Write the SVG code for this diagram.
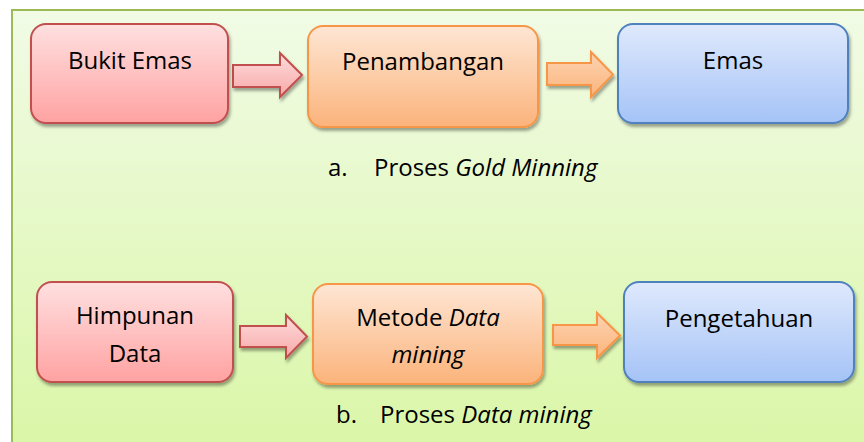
<svg xmlns="http://www.w3.org/2000/svg" width="864" height="442" viewBox="0 0 864 442">
<defs>
<linearGradient id="bg" x1="0" y1="0" x2="0" y2="1"><stop offset="0" stop-color="#f1fbe6"/><stop offset="1" stop-color="#d9f6a4"/></linearGradient>
<linearGradient id="gr" x1="0" y1="0" x2="0" y2="1"><stop offset="0" stop-color="#ffe0e0"/><stop offset="1" stop-color="#ffa2a2"/></linearGradient>
<linearGradient id="go" x1="0" y1="0" x2="0" y2="1"><stop offset="0" stop-color="#fee6d4"/><stop offset="1" stop-color="#fbb37b"/></linearGradient>
<linearGradient id="gb" x1="0" y1="0" x2="0" y2="1"><stop offset="0" stop-color="#dfe9fc"/><stop offset="1" stop-color="#a5c3f7"/></linearGradient>
<linearGradient id="ar" x1="0" y1="0" x2="0" y2="1"><stop offset="0" stop-color="#ffdcdc"/><stop offset="1" stop-color="#f7a8a8"/></linearGradient>
<linearGradient id="ao" x1="0" y1="0" x2="0" y2="1"><stop offset="0" stop-color="#fdd3b2"/><stop offset="1" stop-color="#fbb47c"/></linearGradient>
<filter id="sh" x="-10%" y="-10%" width="130%" height="140%"><feDropShadow dx="1.5" dy="3" stdDeviation="1.8" flood-color="#000" flood-opacity="0.35"/></filter>
</defs>
<style>
.t{font-family:"Open Sans","Liberation Sans",sans-serif;font-size:24px;fill:#000}
.c{text-anchor:middle}
.red{fill:url(#gr);stroke:#c0504d;stroke-width:2}
.ora{fill:url(#go);stroke:#f79646;stroke-width:2}
.blu{fill:url(#gb);stroke:#4f81bd;stroke-width:2}
.ared{fill:url(#ar);stroke:#c0504d;stroke-width:2}
.aora{fill:url(#ao);stroke:#f79646;stroke-width:2}
</style>
<rect width="864" height="442" fill="#fff"/>
<rect x="12" y="10" width="880" height="460" fill="url(#bg)" stroke="#9bbb59" stroke-width="2"/>
<g id="connectors" filter="url(#sh)">
<path class="ared" d="M233,65 H280 V53 L302,75 L280,97 V87 H233 Z"/>
<path class="aora" d="M547,63 H591 V52 L613,74.5 L591,97 V85 H547 Z"/>
<path class="ared" d="M240,326 H286 V315 L307,336.5 L286,358 V347 H240 Z"/>
<path class="aora" d="M553,325 H597 V313 L620,335.5 L597,358 V345 H553 Z"/>
</g>
<g id="n1"><rect class="red" x="31" y="24" width="197" height="99" rx="15" filter="url(#sh)"/><text class="t c" x="130" y="69">Bukit Emas</text></g>
<g id="n2"><rect class="ora" x="308" y="26" width="230" height="101" rx="15" filter="url(#sh)"/><text class="t c" x="423" y="70">Penambangan</text></g>
<g id="n3"><rect class="blu" x="618" y="24" width="230" height="99" rx="15" filter="url(#sh)"/><text class="t c" x="733" y="69">Emas</text></g>
<g id="n4"><rect class="red" x="37" y="282" width="196" height="100" rx="15" filter="url(#sh)"/><text class="t c" x="135" y="324">Himpunan</text><text class="t c" x="135" y="362">Data</text></g>
<g id="n5"><rect class="ora" x="313" y="284" width="230" height="100" rx="15" filter="url(#sh)"/><text class="t c" x="428" y="326">Metode <tspan font-style="italic">Data</tspan></text><text class="t c" x="428" y="363" font-style="italic">mining</text></g>
<g id="n6"><rect class="blu" x="624" y="282" width="230" height="100" rx="15" filter="url(#sh)"/><text class="t c" x="739" y="327">Pengetahuan</text></g>
<g id="captions">
<text class="t" x="328" y="176">a.</text><text class="t" x="374" y="176">Proses <tspan font-style="italic">Gold Minning</tspan></text>
<text class="t" x="336" y="423">b.</text><text class="t" x="380" y="423">Proses <tspan font-style="italic">Data mining</tspan></text>
</g>
</svg>
